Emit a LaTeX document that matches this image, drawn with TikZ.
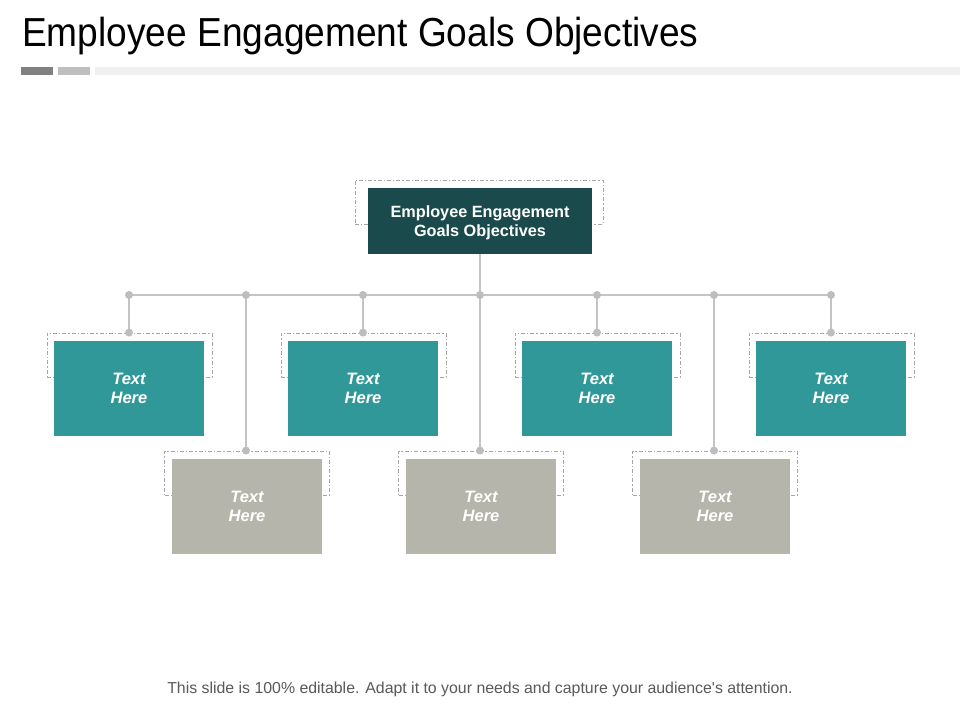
\documentclass[tikz,border=0pt]{standalone}
\usepackage{fontspec}
\setmainfont{Liberation Sans}
\begin{document}
\begin{tikzpicture}[x=0.75pt,y=-0.75pt,
  tealbox/.style={draw=none,fill=tealc,minimum width=150*0.75pt,minimum height=95*0.75pt,inner sep=0pt,
     text=white,font=\fontsize{12.4}{14.2}\selectfont\bfseries\itshape,align=center},
  graybox/.style={tealbox,fill=grayc},
  topbox/.style={draw=none,fill=darkc,minimum width=224*0.75pt,minimum height=66*0.75pt,inner sep=0pt,
     text=white,font=\fontsize{12.2}{14.2}\selectfont\bfseries,align=center,text depth=0pt},
  dashbox/.style={draw=dashc,line width=0.6pt,dash pattern=on 3pt off 1.5pt on 1pt off 1.5pt,
     minimum width=165*0.75pt,minimum height=44*0.75pt,inner sep=0pt},
  conn/.style={draw=linec,line width=1.1pt},
  dotc/.style={circle,fill=dotcol,draw=none,minimum size=8*0.75pt,inner sep=0pt}
]
\definecolor{tealc}{HTML}{31989A}
\definecolor{grayc}{HTML}{B5B5AB}
\definecolor{darkc}{HTML}{1A4A4B}
\definecolor{dashc}{HTML}{A6A6A6}
\definecolor{linec}{HTML}{C4C4C4}
\definecolor{dotcol}{HTML}{BDBDBD}
\useasboundingbox (0,0) rectangle (960,720);
\fill[white] (0,0) rectangle (960,720);
% title
\node[anchor=base west,inner sep=0pt,xscale=0.915,font=\fontsize{30.4}{34}\selectfont] (title) at (22,47) {Employee Engagement Goals Objectives};
\fill[fill={rgb,255:red,128;green,128;blue,128}] (21,67) rectangle (53,75);
\fill[fill={rgb,255:red,191;green,191;blue,191}] (58,67) rectangle (90,75);
\fill[fill={rgb,255:red,240;green,240;blue,240}] (95,67) rectangle (960,75);
% top box
\node[dashbox,minimum width=248*0.75pt] (topdash) at (479,202) {};
\node[topbox] (top) at (480,221) {Employee Engagement\\Goals Objectives};
% hub coordinates
\foreach \i/\x in {1/129,2/246,3/363,4/480,5/597,6/714,7/831}{
  \coordinate (h\i) at (\x,295);
}
% teal boxes
\foreach \i/\x in {1/129,3/363,5/597,7/831}{
  \node[dashbox] (d\i) at (\x+0.5,355) {};
  \node[tealbox] (b\i) at (\x,388.5) {Text\\Here};
}
% gray boxes
\foreach \i/\x in {2/246,4/480,6/714}{
  \node[dashbox] (d\i) at (\x+1,473) {};
  \node[graybox] (b\i) at (\x+1,506.5) {Text\\Here};
}
% connectors
\draw[conn] (h1) -- (h7);
\draw[conn] (top.south) -- (h4);
\foreach \i in {1,...,7}{
  \draw[conn] (h\i) -- (h\i |- d\i.north);
}
\foreach \i in {1,...,7}{
  \node[dotc] (hd\i) at (h\i) {};
  \node[dotc] (td\i) at (h\i |- d\i.north) {};
}
% footer
\node[inner sep=0pt,text={rgb,255:red,89;green,89;blue,89},font=\fontsize{11.9}{14}\selectfont] (foot) at (480,689) {This slide is 100\% editable. Adapt it to your needs and capture your audience\textquotesingle s attention.};
\end{tikzpicture}
\end{document}
